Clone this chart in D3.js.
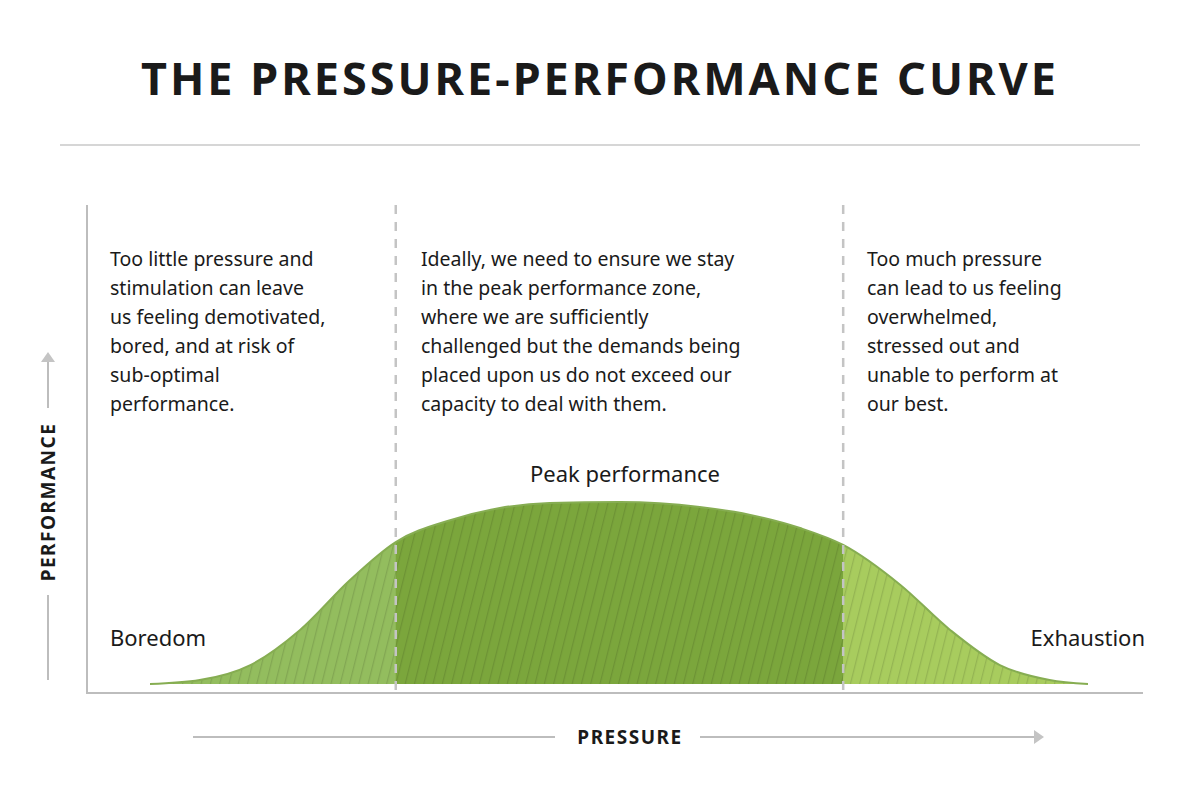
<!DOCTYPE html>
<meta charset="utf-8">
<style>
body { margin: 0; background: #fff; }
text { font-family: "Noto Sans", sans-serif; fill: #1a1a1a; }
.note { font-size: 19.5px; }
.grid { stroke: #bdbdbd; stroke-width: 2; }
</style>
<body></body>
<script src="https://d3js.org/d3.v7.min.js"></script>
<script>
// curve: pressure 0..100, performance 0..100
var pressure =    [0, 5.3, 10.7, 16, 21.3, 26.2, 32, 37.3, 42.6, 50.1, 58.6, 64, 69.3, 73.9, 80, 85.3, 90.6, 95.9, 100];
var performance = [0, 2.2, 10.4, 29.7, 57, 78, 90, 96.7, 99.5, 100, 97.3, 92.9, 85.7, 76.4, 54.4, 29.7, 10.4, 2.2, 0];
var zoneEdges = [0, 26.2, 73.9, 100];
var zoneColors = ["#93bd5e", "#7ba63c", "#a8cc5e"];
var notes = [
  ["Too little pressure and", "stimulation can leave", "us feeling demotivated,", "bored, and at risk of", "sub-optimal", "performance."],
  ["Ideally, we need to ensure we stay", "in the peak performance zone,", "where we are sufficiently", "challenged but the demands being", "placed upon us do not exceed our", "capacity to deal with them."],
  ["Too much pressure", "can lead to us feeling", "overwhelmed,", "stressed out and", "unable to perform at", "our best."]
];

var svg = d3.select("body").append("svg").attr("width", 1200).attr("height", 800);

var x = d3.scaleLinear().domain([0, 100]).range([150, 1088]);
var y = d3.scaleLinear().domain([0, 100]).range([684, 502]);

svg.append("text").attr("x", 600).attr("y", 95).attr("text-anchor", "middle")
  .style("font-size", "45px").style("font-weight", "bold").style("letter-spacing", "3px")
  .text("THE PRESSURE-PERFORMANCE CURVE");
svg.append("line").attr("x1", 60).attr("x2", 1140).attr("y1", 145).attr("y2", 145)
  .attr("stroke", "#c8c8c8").attr("stroke-width", 1.5);

// hatch patterns
var defs = svg.append("defs");
zoneColors.forEach(function(c, i) {
  var p = defs.append("pattern").attr("id", "hatch" + i).attr("patternUnits", "userSpaceOnUse")
    .attr("width", 9).attr("height", 9).attr("patternTransform", "rotate(14)");
  p.append("rect").attr("width", 9).attr("height", 9).attr("fill", c);
  p.append("line").attr("x1", 0).attr("x2", 0).attr("y1", 0).attr("y2", 9)
    .attr("stroke", d3.color(c).darker(0.35)).attr("stroke-width", 2.5);
});

var pts = pressure.map(function(p, i) { return [p, performance[i]]; });
var area = d3.area().x(function(d) { return x(d[0]); }).y0(y(0)).y1(function(d) { return y(d[1]); })
  .curve(d3.curveMonotoneX);

zoneColors.forEach(function(c, i) {
  defs.append("clipPath").attr("id", "clip" + i).append("rect")
    .attr("x", x(zoneEdges[i])).attr("width", x(zoneEdges[i + 1]) - x(zoneEdges[i]) + 0.5)
    .attr("y", 0).attr("height", 800);
  svg.append("path").datum(pts).attr("d", area).attr("fill", "url(#hatch" + i + ")")
    .attr("clip-path", "url(#clip" + i + ")");
});
svg.append("path").datum(pts)
  .attr("d", d3.line().x(function(d) { return x(d[0]); }).y(function(d) { return y(d[1]); }).curve(d3.curveMonotoneX))
  .attr("fill", "none").attr("stroke", "#86ad52").attr("stroke-width", 2);

// axes
svg.append("line").attr("class", "grid").attr("x1", 87).attr("x2", 87).attr("y1", 205).attr("y2", 694);
svg.append("line").attr("class", "grid").attr("x1", 86).attr("x2", 1143).attr("y1", 693).attr("y2", 693);
[zoneEdges[1], zoneEdges[2]].forEach(function(e) {
  svg.append("line").attr("x1", x(e)).attr("x2", x(e)).attr("y1", 205).attr("y2", 697)
    .attr("stroke", "#c4c4c4").attr("stroke-width", 2.5).attr("stroke-dasharray", "9,8");
});

// notes
var noteX = [110, 421, 867];
notes.forEach(function(lines, i) {
  var t = svg.append("text").attr("class", "note").attr("x", noteX[i]).attr("y", 266);
  lines.forEach(function(l, j) {
    t.append("tspan").attr("x", noteX[i]).attr("dy", j ? 29 : 0).text(l);
  });
});

svg.append("text").attr("x", 625).attr("y", 482).attr("text-anchor", "middle").style("font-size", "22px").text("Peak performance");
svg.append("text").attr("x", 110).attr("y", 646).style("font-size", "22px").text("Boredom");
svg.append("text").attr("x", 1145).attr("y", 646).attr("text-anchor", "end").style("font-size", "22px").text("Exhaustion");

// axis labels with arrows
svg.append("line").attr("class", "grid").attr("x1", 193).attr("x2", 555).attr("y1", 737).attr("y2", 737).attr("stroke-width", 1.5);
svg.append("line").attr("class", "grid").attr("x1", 700).attr("x2", 1036).attr("y1", 737).attr("y2", 737).attr("stroke-width", 1.5);
svg.append("path").attr("d", "M1034,730 L1044,737 L1034,744 Z").attr("fill", "#c4c4c4");
svg.append("text").attr("x", 630).attr("y", 744).attr("text-anchor", "middle")
  .style("font-size", "19px").style("font-weight", "bold").style("letter-spacing", "1.5px").text("PRESSURE");

svg.append("line").attr("class", "grid").attr("x1", 48).attr("x2", 48).attr("y1", 362).attr("y2", 408).attr("stroke-width", 1.5);
svg.append("line").attr("class", "grid").attr("x1", 48).attr("x2", 48).attr("y1", 595).attr("y2", 680).attr("stroke-width", 1.5);
svg.append("path").attr("d", "M41,362 L48,352 L55,362 Z").attr("fill", "#c4c4c4");
svg.append("text").attr("transform", "translate(55,502) rotate(-90)").attr("text-anchor", "middle")
  .style("font-size", "19px").style("font-weight", "bold").style("letter-spacing", "1.5px").text("PERFORMANCE");
</script>
